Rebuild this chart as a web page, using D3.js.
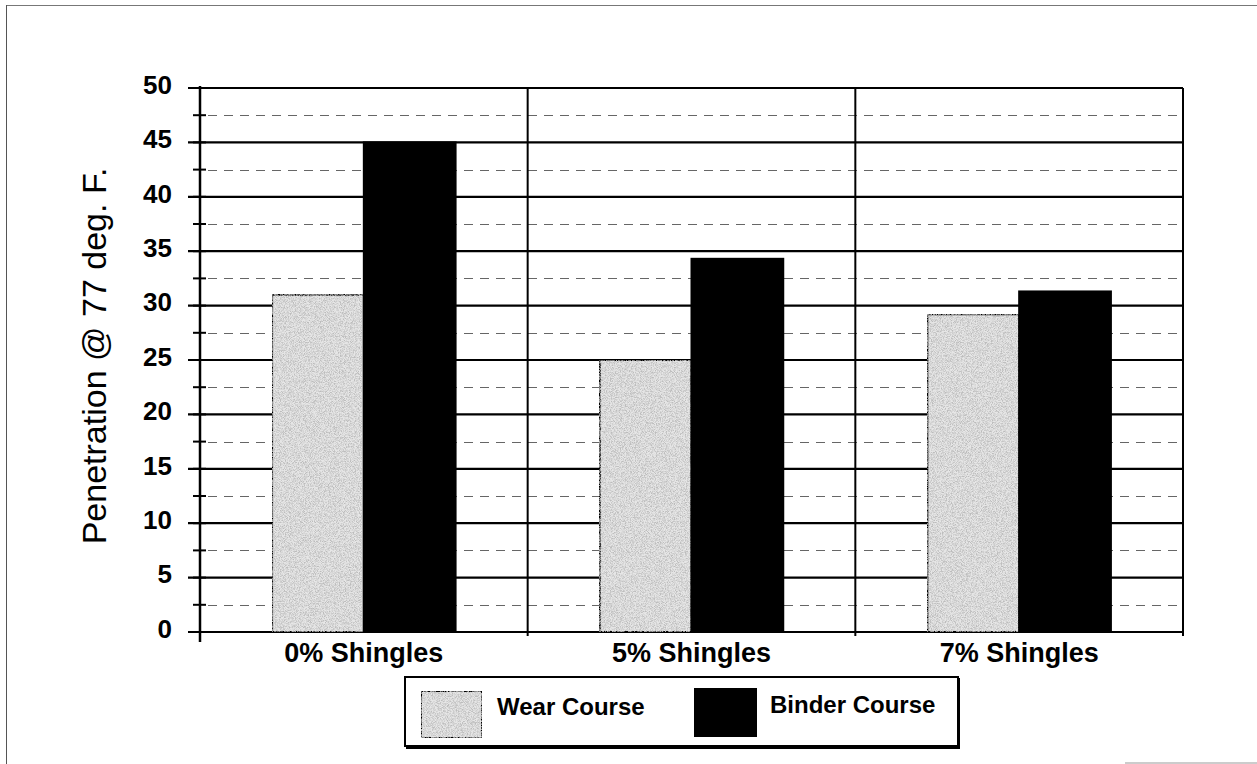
<!DOCTYPE html>
<html>
<head>
<meta charset="utf-8">
<script src="https://cdn.jsdelivr.net/npm/d3@7"></script>
<style>
  html, body { margin: 0; padding: 0; background: #fff; }
  svg { display: block; font-family: "Liberation Sans", Arial, sans-serif; }
</style>
</head>
<body>
<svg id="chart" width="1257" height="764"></svg>
<script>
// Penetration at 77 °F for wear and binder courses by shingle content
const categories = ["0% Shingles", "5% Shingles", "7% Shingles"];
const seriesNames = ["Wear Course", "Binder Course"];
const wearValues = [31, 25, 29.2];
const binderValues = [45, 34.3, 31.3];
const yTicks = [0, 5, 10, 15, 20, 25, 30, 35, 40, 45, 50];
const yMinor = [2.5, 7.5, 12.5, 17.5, 22.5, 27.5, 32.5, 37.5, 42.5, 47.5];

const svg = d3.select("#chart");
const m = { left: 200, right: 1183, top: 88, bottom: 632 };

// speckled light-grey fill for the wear course
const defs = svg.append("defs");
const filt = defs.append("filter").attr("id", "speckle")
  .attr("x", 0).attr("y", 0).attr("width", 1).attr("height", 1);
filt.append("feTurbulence").attr("type", "fractalNoise")
  .attr("baseFrequency", 1.2).attr("numOctaves", 2).attr("seed", 7).attr("result", "noise");
filt.append("feColorMatrix").attr("in", "noise").attr("type", "matrix")
  .attr("values", "0 0 0 0 0.5  0 0 0 0 0.5  0 0 0 0 0.5  0 0 0 2.6 -0.95")
  .attr("result", "dots");
filt.append("feComposite").attr("in", "dots").attr("in2", "SourceGraphic").attr("operator", "in")
  .attr("result", "clipped");
filt.append("feMerge").selectAll("feMergeNode")
  .data(["SourceGraphic", "clipped"]).join("feMergeNode").attr("in", d => d);

// outer frame
svg.append("line").attr("x1", 6).attr("x2", 1257).attr("y1", 5.5).attr("y2", 5.5)
  .attr("stroke", "#777").attr("stroke-width", 1);
svg.append("line").attr("x1", 6.5).attr("x2", 6.5).attr("y1", 5).attr("y2", 764)
  .attr("stroke", "#555").attr("stroke-width", 1);
svg.append("line").attr("x1", 1125).attr("x2", 1257).attr("y1", 763).attr("y2", 763)
  .attr("stroke", "#999").attr("stroke-width", 1);

const x0 = d3.scaleBand().domain(categories).range([m.left, m.right]).paddingInner(0).paddingOuter(0);
const x1 = d3.scaleBand().domain(seriesNames).range([0, x0.bandwidth() * 0.56]);
const y = d3.scaleLinear().domain([0, 50]).range([m.bottom, m.top]);
const groupOffset = (x0.bandwidth() - x1.range()[1]) / 2;

// dashed minor gridlines
svg.append("g").selectAll("line").data(yMinor).join("line")
  .attr("x1", m.left + 8).attr("x2", m.right)
  .attr("y1", d => Math.round(y(d)) + 0.5).attr("y2", d => Math.round(y(d)) + 0.5)
  .attr("stroke", "#666").attr("stroke-width", 1).attr("stroke-dasharray", "9,7");

// solid major gridlines
svg.append("g").selectAll("line").data(yTicks).join("line")
  .attr("x1", m.left - 12).attr("x2", m.right)
  .attr("y1", d => y(d)).attr("y2", d => y(d))
  .attr("stroke", "#000").attr("stroke-width", 2.2);

// category dividers and right border
svg.append("g").selectAll("line").data(categories.slice(1).map(c => x0(c)).concat([m.right])).join("line")
  .attr("x1", d => d).attr("x2", d => d)
  .attr("y1", m.top).attr("y2", m.bottom + 4)
  .attr("stroke", "#000").attr("stroke-width", 2);

// bars
const rows = categories.map((c, i) => ({ c, vals: [wearValues[i], binderValues[i]] }));
const groups = svg.append("g").selectAll("g").data(rows).join("g")
  .attr("transform", d => `translate(${x0(d.c) + groupOffset},0)`);
groups.selectAll("rect")
  .data(d => d.vals.map((v, j) => ({ name: seriesNames[j], v })))
  .join("rect")
  .attr("x", d => x1(d.name))
  .attr("width", x1.bandwidth())
  .attr("y", d => y(d.v))
  .attr("height", d => y(0) - y(d.v))
  .attr("fill", d => d.name === "Wear Course" ? "#e6e6e6" : "#000")
  .attr("filter", d => d.name === "Wear Course" ? "url(#speckle)" : null)
  .attr("stroke", "#000").attr("stroke-width", 2);

// y axis with major and minor ticks
const yAxis = d3.axisLeft(y).tickValues(yTicks).tickSize(0).tickPadding(28).tickFormat(d3.format("d"));
const gy = svg.append("g").attr("transform", `translate(${m.left},0)`).call(yAxis);
gy.select(".domain").remove();
gy.selectAll("text").attr("font-size", 26).attr("font-weight", "bold").attr("fill", "#000")
  .attr("dy", "0.2em");
svg.append("line").attr("x1", m.left).attr("x2", m.left).attr("y1", m.top - 2).attr("y2", m.bottom + 10)
  .attr("stroke", "#000").attr("stroke-width", 2.5);
svg.append("g").selectAll("line").data(yMinor.concat(yTicks)).join("line")
  .attr("x1", m.left - 7).attr("x2", m.left + 6)
  .attr("y1", d => y(d)).attr("y2", d => y(d))
  .attr("stroke", "#000").attr("stroke-width", 2);

// category labels
svg.append("g").selectAll("text").data(categories).join("text")
  .attr("x", d => x0(d) + x0.bandwidth() / 2)
  .attr("y", m.bottom + 30)
  .attr("text-anchor", "middle")
  .attr("font-size", 27).attr("font-weight", "bold")
  .text(d => d);

// y axis title
svg.append("text")
  .attr("transform", `translate(106,${(m.top + m.bottom) / 2 - 4}) rotate(-90)`)
  .attr("text-anchor", "middle")
  .attr("font-size", 34)
  .text("Penetration @ 77 deg. F.");

// legend
const lg = svg.append("g");
const lgL = 405, lgR = 958;
lg.append("rect").attr("x", lgL).attr("y", 677).attr("width", lgR - lgL).attr("height", 69)
  .attr("fill", "#fff").attr("stroke", "#000").attr("stroke-width", 2);
lg.append("line").attr("x1", lgL + 1).attr("x2", lgR + 2).attr("y1", 747.5).attr("y2", 747.5)
  .attr("stroke", "#000").attr("stroke-width", 3);
lg.append("line").attr("x1", lgR + 0.5).attr("x2", lgR + 0.5).attr("y1", 678).attr("y2", 749)
  .attr("stroke", "#000").attr("stroke-width", 3);
const legendItems = [
  { name: seriesNames[0], sx: 421, sy: 691, tx: 497, ty: 715 },
  { name: seriesNames[1], sx: 695, sy: 689, tx: 770, ty: 713 }
];
lg.selectAll("rect.sw").data(legendItems).join("rect").attr("class", "sw")
  .attr("x", d => d.sx).attr("y", d => d.sy).attr("width", 61).attr("height", 47)
  .attr("fill", d => d.name === "Wear Course" ? "#e6e6e6" : "#000")
  .attr("filter", d => d.name === "Wear Course" ? "url(#speckle)" : null)
  .attr("stroke", "#000").attr("stroke-width", 2);
lg.selectAll("text").data(legendItems).join("text")
  .attr("x", d => d.tx).attr("y", d => d.ty)
  .attr("font-size", 24).attr("font-weight", "bold")
  .text(d => d.name);
</script>
</body>
</html>
